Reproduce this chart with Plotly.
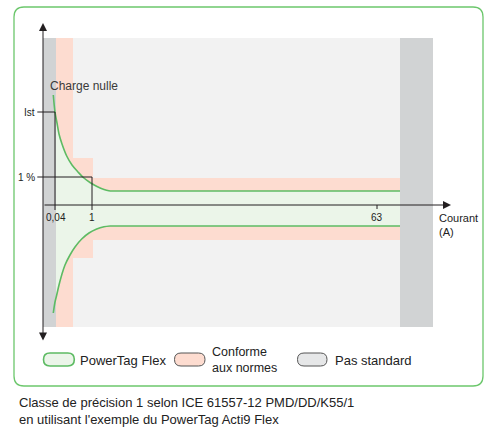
import plotly.graph_objects as go

# ---------------- data (schematic units: origin at axis crossing, Y up) ----------------
tick_labels = ["0,04", "1", "63"]
tick_pos = [12, 49, 334]
level_labels = ["Ist", "1 %"]
level_pos = [93, 28]

# PowerTag Flex error envelope: curved part + flat part
upper_x = [10.3, 12, 14, 16, 19, 23.7, 29, 35, 40.3, 47, 54, 61, 67]
upper_y = [110, 93, 82, 71, 61, 49, 40, 33, 27.5, 22.5, 18.5, 15.5, 14]
lower_x = [10.3, 12, 13.7, 16, 18.7, 22, 27, 32, 38.7, 46, 53.7, 61, 67]
lower_y = [-108, -97, -90, -80, -70, -60, -50, -42, -34, -28, -24, -21.8, -21]
flat_end = 357

# standard (conforme aux normes) limits: step boundaries
std_x = [13, 30, 30, 50, 50, 357]
std_upper = [167, 167, 47, 47, 27, 27]
std_lower = [-122, -122, -53, -53, -35, -35]

# not-standard zones
left_zone = [0, 13]
right_zone = [357, 390]
zone_y = [-122, 167]

legend_labels = ["PowerTag Flex", "Conforme<br>aux normes", "Pas standard"]
caption = "Classe de précision 1 selon ICE 61557-12 PMD/DD/K55/1<br>en utilisant l'exemple du PowerTag Acti9 Flex"

# ---------------- colours ----------------
C_BG = "#f2f2f2"
C_SAL = "#fddcd0"
C_GRN_FILL = "#ebf5e9"
C_GRN = "#5dbb63"
C_GRAY = "#d1d3d4"
C_PILL_GRAY = "#e6e7e8"
C_BLACK = "#231f20"
C_FRAME = "#6cc76c"
FONT = "Liberation Sans, Arial, sans-serif"

fig = go.Figure()

def rect(x0, x1, y0, y1, color):
    fig.add_trace(go.Scatter(x=[x0, x1, x1, x0, x0], y=[y0, y0, y1, y1, y0],
                             mode="lines", line=dict(width=0), fill="toself",
                             fillcolor=color, hoverinfo="skip"))

# background of the chart area
rect(left_zone[1], right_zone[0], zone_y[0], zone_y[1], C_BG)
# salmon standard zone
fig.add_trace(go.Scatter(x=std_x + std_x[::-1] + [std_x[0]],
                         y=std_upper + std_lower[::-1] + [std_upper[0]],
                         mode="lines", line=dict(width=0), fill="toself",
                         fillcolor=C_SAL, hoverinfo="skip"))
# PowerTag fill
ux = upper_x + [flat_end]
uy = upper_y + [upper_y[-1]]
lx = lower_x + [flat_end]
ly = lower_y + [lower_y[-1]]
fig.add_trace(go.Scatter(x=ux + lx[::-1], y=uy + ly[::-1],
                         mode="lines", line=dict(width=0),
                         fill="toself", fillcolor=C_GRN_FILL, hoverinfo="skip"))
# gray not-standard zones
rect(left_zone[0], left_zone[1], zone_y[0], zone_y[1], C_GRAY)
rect(right_zone[0], right_zone[1], zone_y[0], zone_y[1], C_GRAY)
# PowerTag curves
for xs, ys in ((upper_x, upper_y), (lower_x, lower_y)):
    fig.add_trace(go.Scatter(x=xs, y=ys, mode="lines",
                             line=dict(color=C_GRN, width=1.6, shape="spline", smoothing=1),
                             hoverinfo="skip"))
    fig.add_trace(go.Scatter(x=[xs[-1], flat_end], y=[ys[-1], ys[-1]], mode="lines",
                             line=dict(color=C_GRN, width=1.6), hoverinfo="skip"))

# guide lines for Ist and 1 %
def seg(xs, ys):
    fig.add_trace(go.Scatter(x=xs, y=ys, mode="lines",
                             line=dict(color=C_BLACK, width=1), hoverinfo="skip"))

seg([-5.7, tick_pos[0], tick_pos[0]], [level_pos[0], level_pos[0], -5])
seg([-5.7, tick_pos[1], tick_pos[1]], [level_pos[1], level_pos[1], -5])
seg([tick_pos[2], tick_pos[2]], [0, -4])

# axes with arrows
fig.add_annotation(x=0, y=182, ax=0, ay=-137, xref="x", yref="y", axref="x", ayref="y",
                   text="", showarrow=True, arrowhead=2, arrowside="end+start",
                   arrowsize=1.6, arrowwidth=1, arrowcolor=C_BLACK)
fig.add_annotation(x=408, y=0, ax=0, ay=0, xref="x", yref="y", axref="x", ayref="y",
                   text="", showarrow=True, arrowhead=2, arrowsize=1.6,
                   arrowwidth=1, arrowcolor=C_BLACK)

def txt(x, y, s, size, xanchor="left", color="#222222"):
    fig.add_annotation(x=x, y=y, xref="x", yref="y", text=s, showarrow=False,
                       xanchor=xanchor, yanchor="middle", align="left",
                       font=dict(family=FONT, size=size, color=color))

# tick labels
for lab, p in zip(tick_labels, tick_pos):
    txt(p + (1.3 if lab == "0,04" else 0), -12, lab, 10, "center")
for lab, p in zip(level_labels, level_pos):
    txt(-6.5, p, lab, 10, "right")
txt(4.5, 119, "Charge nulle", 12, color="#3a3a3a")
txt(393.5, -13, "Courant", 11)
txt(393.5, -27, "(A)", 11)

# frame and legend pills
def rrect_path(x0, x1, y0, y1, r):
    return (f"M{x0+r},{y0} L{x1-r},{y0} Q{x1},{y0} {x1},{y0+r} L{x1},{y1-r} "
            f"Q{x1},{y1} {x1-r},{y1} L{x0+r},{y1} Q{x0},{y1} {x0},{y1-r} "
            f"L{x0},{y0+r} Q{x0},{y0} {x0+r},{y0} Z")

fig.add_shape(type="path", path=rrect_path(-29, 440, -181, 198, 10), xref="x", yref="y",
              line=dict(color=C_FRAME, width=1.3), fillcolor="rgba(0,0,0,0)", layer="below")
fig.add_shape(type="path", path=rrect_path(0.5, 31.3, -161, -148, 6.5), xref="x", yref="y",
              line=dict(color=C_GRN, width=1.6), fillcolor=C_GRN_FILL)
fig.add_shape(type="path", path=rrect_path(131.5, 162, -161, -148, 6.5), xref="x", yref="y",
              line=dict(color="#555555", width=1), fillcolor=C_SAL)
fig.add_shape(type="path", path=rrect_path(254.5, 284, -161, -148, 6.5), xref="x", yref="y",
              line=dict(color="#555555", width=1), fillcolor=C_PILL_GRAY)

txt(35.3, -155, legend_labels[0], 13)
txt(167, -155, legend_labels[1], 12.5)
txt(289.7, -155, legend_labels[2], 13)

fig.add_annotation(x=-26.5, y=-206, xref="x", yref="y", text=caption, showarrow=False,
                   xanchor="left", yanchor="middle", align="left",
                   font=dict(family=FONT, size=13, color="#222222"))

fig.update_layout(
    width=493, height=438, margin=dict(l=0, r=0, t=0, b=0),
    paper_bgcolor="white", plot_bgcolor="white", showlegend=False,
    xaxis=dict(range=[-43, 450], visible=False, fixedrange=True),
    yaxis=dict(range=[-233, 205], visible=False, fixedrange=True),
)
fig.write_html("out.html", config={"displayModeBar": False},
               post_script="document.body.style.margin='0px';document.body.style.overflow='hidden';")
